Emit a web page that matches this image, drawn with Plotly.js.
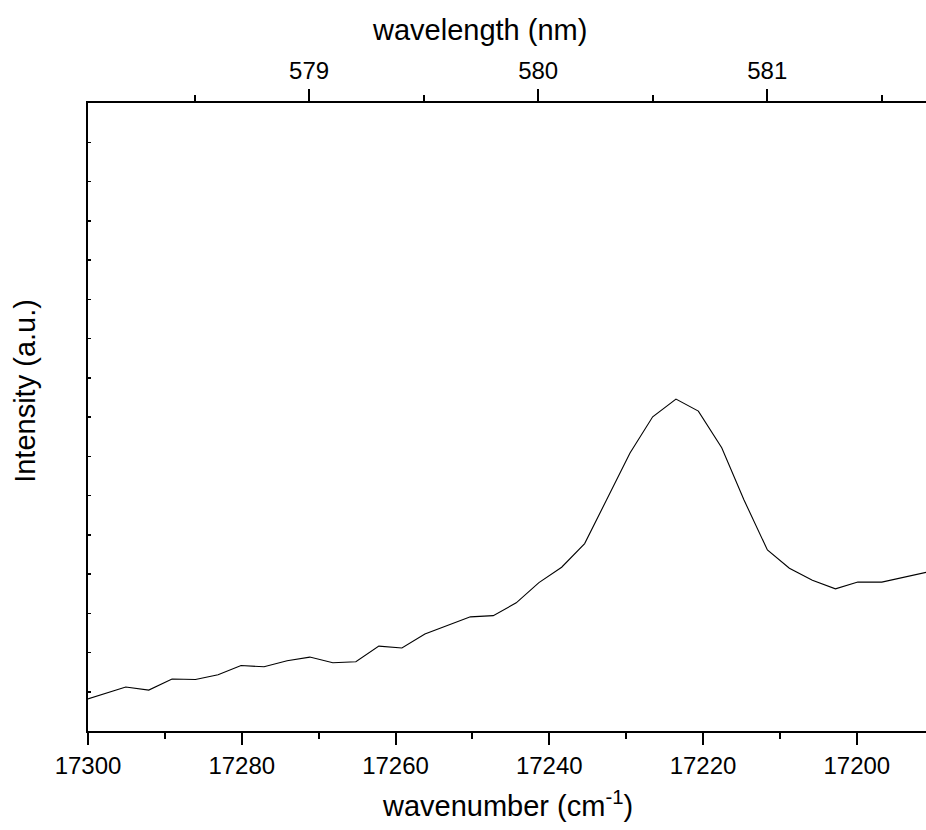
<!DOCTYPE html>
<html>
<head>
<meta charset="utf-8">
<script src="https://cdn.plot.ly/plotly-3.0.1.min.js"></script>
<style>html,body{margin:0;padding:0;background:#fff;}#chart{width:926px;height:830px;}</style>
</head>
<body>
<div id="chart"></div>
<script>
// wavenumber (cm^-1)
const wavenumber = [17300.95, 17297.96, 17295.09, 17292.10, 17289.07, 17286.02, 17283.08, 17280.09,
  17277.10, 17274.10, 17271.15, 17268.15, 17265.16, 17262.17, 17259.17, 17256.18, 17253.25, 17250.26,
  17247.29, 17244.30, 17241.35, 17238.39, 17235.40, 17232.43, 17229.50, 17226.55, 17223.52, 17220.61,
  17217.57, 17214.67, 17211.63, 17208.77, 17205.78, 17202.78, 17199.87, 17196.75, 17193.84, 17190.85];
// intensity (a.u.)
const intensity = [0.758, 0.941, 1.120, 1.043, 1.323, 1.313, 1.433, 1.669,
  1.636, 1.789, 1.883, 1.738, 1.763, 2.163, 2.115, 2.471, 2.697, 2.908,
  2.939, 3.265, 3.781, 4.173, 4.774, 5.924, 7.081, 8.005, 8.456, 8.150,
  7.216, 5.885, 4.613, 4.148, 3.842, 3.621, 3.794, 3.794, 3.921, 4.048];
const bottomTicks = [17300, 17280, 17260, 17240, 17220, 17200];
const topTicks = [579, 580, 581];

const font = {family: 'Liberation Sans, Arial, sans-serif', color: '#000'};
const data = [
  {x: wavenumber, y: intensity, type: 'scatter', mode: 'lines',
   line: {color: '#000', width: 1.1}, hoverinfo: 'skip', showlegend: false},
  {x: topTicks, y: [0, 0, 0], xaxis: 'x2', yaxis: 'y', type: 'scatter', mode: 'markers',
   marker: {size: 0.1, opacity: 0}, hoverinfo: 'skip', showlegend: false}
];
const layout = {
  width: 926, height: 830,
  margin: {l: 88, r: 0, t: 103, b: 99},
  paper_bgcolor: '#fff', plot_bgcolor: '#fff',
  font: Object.assign({size: 24}, font),
  showlegend: false,
  xaxis: {
    range: [17300, 17191], autorange: false,
    tickmode: 'array', tickvals: bottomTicks, ticktext: bottomTicks.map(String),
    ticks: 'outside', ticklen: 12, tickwidth: 2, tickcolor: '#000',
    minor: {dtick: 10, tick0: 17300, ticks: 'outside', ticklen: 6, tickwidth: 2, tickcolor: '#000', showgrid: false},
    showline: true, linecolor: '#000', linewidth: 2, mirror: false,
    showgrid: false, zeroline: false,
    tickfont: Object.assign({size: 24}, font)
  },
  xaxis2: {
    overlaying: 'x', side: 'top', anchor: 'y',
    range: [578.035, 581.693], autorange: false,
    tickmode: 'array', tickvals: topTicks, ticktext: topTicks.map(String),
    ticks: 'outside', ticklen: 12, tickwidth: 2, tickcolor: '#000',
    minor: {dtick: 0.5, tick0: 578, ticks: 'outside', ticklen: 6, tickwidth: 2, tickcolor: '#000', showgrid: false},
    showline: true, linecolor: '#000', linewidth: 2,
    showgrid: false, zeroline: false,
    tickfont: Object.assign({size: 24}, font)
  },
  yaxis: {
    range: [0, 16], autorange: false,
    tickmode: 'linear', tick0: 0, dtick: 1,
    ticks: 'inside', ticklen: 3, tickwidth: 1.5, tickcolor: '#000',
    showticklabels: false,
    showline: true, linecolor: '#000', linewidth: 2,
    showgrid: false, zeroline: false
  },
  annotations: [
    {text: 'wavenumber (cm<sup>-1</sup>)', xref: 'paper', yref: 'paper', x: 0.5, y: -0.116,
     xanchor: 'center', yanchor: 'middle', showarrow: false, font: Object.assign({size: 29}, font)},
    {text: 'wavelength (nm)', xref: 'paper', yref: 'paper', x: 0.4666, y: 1.116,
     xanchor: 'center', yanchor: 'middle', showarrow: false, font: Object.assign({size: 29}, font)},
    {text: 'Intensity (a.u.)', xref: 'paper', yref: 'paper', x: -0.0745, y: 0.541,
     xanchor: 'center', yanchor: 'middle', textangle: -90, showarrow: false, font: Object.assign({size: 29}, font)}
  ]
};
Plotly.newPlot('chart', data, layout, {displayModeBar: false, staticPlot: true});
</script>
</body>
</html>
